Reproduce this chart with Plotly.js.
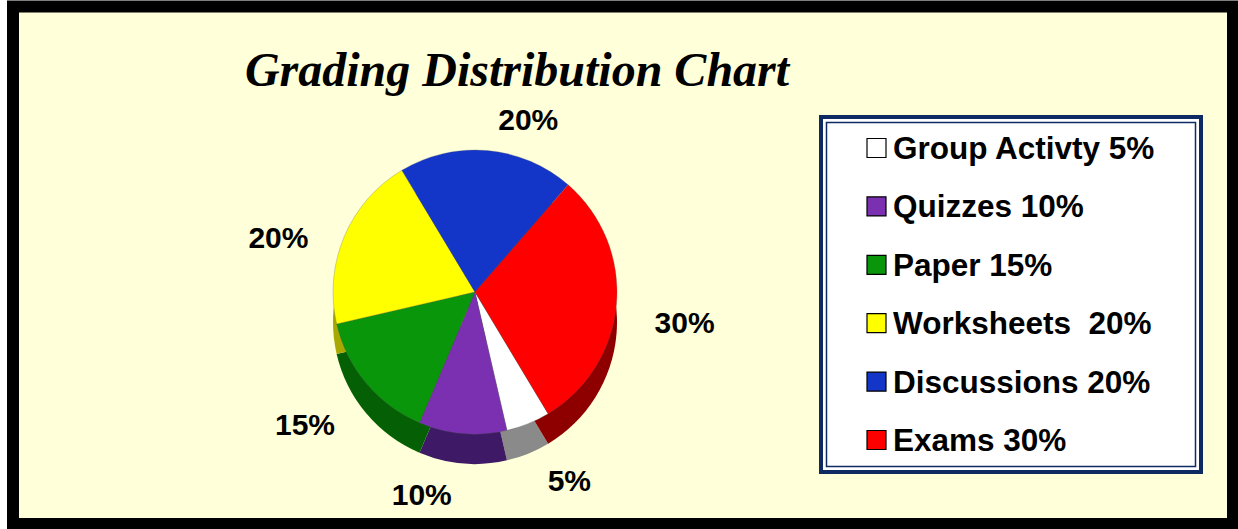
<!DOCTYPE html>
<html>
<head>
<meta charset="utf-8">
<script src="https://cdn.plot.ly/plotly-3.0.1.min.js"></script>
<style>
  html, body { margin: 0; padding: 0; background: #ffffff; }
  #chart { width: 1238px; height: 529px; }
</style>
</head>
<body>
<div id="chart"></div>
<script>
// ---- data ----
const categories = ["Group Activty", "Quizzes", "Paper", "Worksheets", "Discussions", "Exams"];
const legendLabels = ["Group Activty 5%", "Quizzes 10%", "Paper 15%", "Worksheets  20%", "Discussions 20%", "Exams 30%"];
const values = [5, 10, 15, 20, 20, 30];
const sliceColors = ["#FFFFFF", "#7A30B0", "#0A960A", "#FFFF00", "#1436C8", "#FF0000"];
const sideColors = ["#8A8A8A", "#3E1A66", "#056005", "#A8A800", "#0A1F80", "#8E0000"];
const chartTitle = "Grading Distribution Chart";

// ---- page pixel -> paper helpers (margins are zero) ----
const W = 1238, H = 529;
const px = X => X / W;
const py = Y => 1 - Y / H;

// pie geometry in page pixels
const cx = 475, cy = 292, r = 142, depth = 30, rLab = 172;

const common = {
  type: "pie",
  values: values,
  labels: categories,
  sort: false,
  direction: "clockwise",
  rotation: 149,
  showlegend: false
};

// depth (side wall) of the pie
const sideTrace = Object.assign({}, common, {
  marker: { colors: sideColors, line: { width: 0 } },
  textinfo: "none",
  hoverinfo: "skip",
  domain: { x: [px(cx - r), px(cx + r)], y: [py(cy + depth + r), py(cy + depth - r)] }
});

// top face of the pie
const pieTrace = Object.assign({}, common, {
  marker: { colors: sliceColors, line: { color: "rgba(90,90,90,0.35)", width: 0.8 } },
  textinfo: "none",
  domain: { x: [px(cx - r), px(cx + r)], y: [py(cy + r), py(cy - r)] }
});

// transparent ring carrying the percentage labels outside the solid pie
const labelTrace = Object.assign({}, common, {
  marker: { colors: values.map(() => "rgba(0,0,0,0)"), line: { width: 0 } },
  textinfo: "percent",
  textposition: "outside",
  hoverinfo: "skip",
  outsidetextfont: { family: "Liberation Sans, Arial, sans-serif", size: 30, color: "#000000", weight: "bold" },
  domain: { x: [px(cx - rLab), px(cx + rLab)], y: [py(cy + depth / 2 + rLab), py(cy + depth / 2 - rLab)] }
});

// ---- shapes: outer black frame, legend box, legend swatches ----
const shapes = [
  { type: "rect", xref: "paper", yref: "paper", layer: "below",
    x0: px(13), x1: px(1233), y0: py(524), y1: py(6.5),
    line: { color: "#000000", width: 12 }, fillcolor: "#FFFFD9" },
  { type: "rect", xref: "paper", yref: "paper", layer: "below",
    x0: px(821), x1: px(1201), y0: py(472), y1: py(117),
    line: { color: "#0E2A63", width: 4 }, fillcolor: "#FFFFFF" },
  { type: "rect", xref: "paper", yref: "paper", layer: "below",
    x0: px(826.5), x1: px(1195.5), y0: py(466.5), y1: py(122.5),
    line: { color: "#0E2A63", width: 1.5 } }
];

const annotations = [];
const rowTop = 148, rowGap = 58.4, sw = 19, swX = 867, textX = 891;
legendLabels.forEach((lab, i) => {
  const yc = rowTop + i * rowGap;
  shapes.push({
    type: "rect", xref: "paper", yref: "paper", layer: "above",
    x0: px(swX), x1: px(swX + sw), y0: py(yc + sw / 2), y1: py(yc - sw / 2),
    line: { color: "#000000", width: 1.2 }, fillcolor: sliceColors[i]
  });
  annotations.push({
    xref: "paper", yref: "paper", x: px(textX), y: py(yc),
    xanchor: "left", yanchor: "middle", showarrow: false,
    text: lab,
    font: { family: "Liberation Sans, Arial, sans-serif", size: 31.5, color: "#000000", weight: "bold" }
  });
});

const layout = {
  width: W, height: H,
  margin: { l: 0, r: 0, t: 0, b: 0, pad: 0 },
  paper_bgcolor: "#FFFFFF",
  plot_bgcolor: "rgba(0,0,0,0)",
  showlegend: false,
  title: {
    text: "<b><i>" + chartTitle + "</i></b>",
    x: px(517), xanchor: "center",
    y: py(69), yanchor: "middle",
    font: { family: "Liberation Serif, Times New Roman, serif", size: 48, color: "#000000" }
  },
  shapes: shapes,
  annotations: annotations
};

Plotly.newPlot("chart", [sideTrace, pieTrace, labelTrace], layout, { displayModeBar: false, staticPlot: true });
</script>
</body>
</html>
